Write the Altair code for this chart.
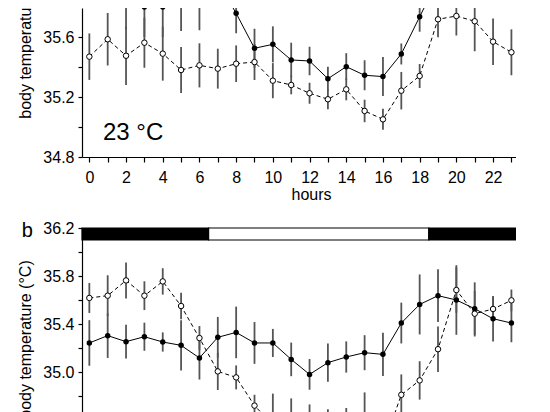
import altair as alt
import pandas as pd

# ---------------- data ----------------
hours = list(range(24))

# panel a (23 °C)
top_filled = [36.00, 35.95, 35.84, 35.80, 35.80, 35.82, 35.835, 35.97, 35.758, 35.525,
              35.551, 35.447, 35.44, 35.322, 35.402, 35.345, 35.336, 35.487, 35.735, 35.98,
              36.05, 36.05, 36.05, 36.00]
top_filled_err = [0.12, 0.15, 0.19, 0.20, 0.20, 0.18, 0.19, 0.17, 0.133, 0.13,
                  0.12, 0.115, 0.095, 0.08, 0.09, 0.10, 0.13, 0.07, 0.10, 0.10,
                  0.15, 0.15, 0.15, 0.12]
top_open = [35.469, 35.585, 35.475, 35.562, 35.489, 35.38, 35.411, 35.389, 35.422, 35.433,
            35.309, 35.28, 35.225, 35.185, 35.251, 35.107, 35.051, 35.242, 35.34, 35.718,
            35.74, 35.705, 35.569, 35.498]
top_open_err = [0.155, 0.175, 0.195, 0.167, 0.18, 0.153, 0.147, 0.133, 0.122, 0.12,
                0.117, 0.062, 0.07, 0.067, 0.073, 0.075, 0.07, 0.125, 0.08, 0.12,
                0.13, 0.20, 0.155, 0.153]

# panel b
bot_filled = [35.242, 35.303, 35.253, 35.294, 35.25, 35.222, 35.117, 35.289, 35.33, 35.242,
              35.242, 35.105, 34.98, 35.078, 35.125, 35.161, 35.147, 35.408, 35.563, 35.636,
              35.60, 35.527, 35.444, 35.408]
bot_filled_err = [0.19, 0.186, 0.14, 0.117, 0.08, 0.21, 0.18, 0.17, 0.215, 0.174,
                  0.117, 0.14, 0.128, 0.16, 0.13, 0.146, 0.18, 0.17, 0.25, 0.22,
                  0.29, 0.22, 0.19, 0.16]
bot_open = [35.617, 35.636, 35.763, 35.636, 35.755, 35.55, 35.283, 35.005, 34.955, 34.72,
            34.56, 34.52, 34.45, 34.46, 34.48, 34.50, 34.38, 34.81, 34.93, 35.19,
            35.683, 35.486, 35.525, 35.597]
bot_open_err = [0.125, 0.17, 0.15, 0.12, 0.11, 0.11, 0.10, 0.155, 0.10, 0.09,
                0.26, 0.26, 0.28, 0.23, 0.22, 0.33, 0.25, 0.17, 0.16, 0.19,
                0.19, 0.19, 0.10, 0.09]

# light/dark bar
phase_names = ["dark", "light", "dark"]
phase_start = [-0.4, 6.5, 18.5]
phase_end = [6.5, 18.5, 23.25]

x_labels_even = "datum.value % 2 == 0 ? datum.label : ''"
top_panel_label = "23 °C"
bottom_panel_letter = "b"
y_title = "body temperature (°C)"
x_title = "hours"

FONT = "Liberation Sans"


def panel_df(filled, filled_err, opened, opened_err):
    rows = []
    for h, v, e in zip(hours, filled, filled_err):
        rows.append({"hour": h, "series": "filled", "temp": v, "err": e})
    for h, v, e in zip(hours, opened, opened_err):
        rows.append({"hour": h, "series": "open", "temp": v, "err": e})
    return pd.DataFrame(rows)


x_scale = alt.Scale(domain=[phase_start[0], phase_end[-1]], nice=False, zero=False)

W = 434
H_TOP = 149
H_BOT = 184
TOP_MAX = 34.8 + H_TOP / 150.0
BOT_MIN = 36.2 - H_BOT / 120.0


def layers(df, x_enc, y_axis, y_scale):
    base = alt.Chart(df).transform_calculate(
        lo="datum.temp - datum.err", hi="datum.temp + datum.err"
    )

    def Y(field):
        return alt.Y(field, scale=y_scale, axis=y_axis)

    err = base.mark_rule(color="#555555", strokeWidth=1.8, clip=True).encode(
        x=x_enc, y=Y("lo:Q"), y2="hi:Q"
    )
    line_f = base.transform_filter("datum.series == 'filled'").mark_line(
        color="black", strokeWidth=1, clip=True
    ).encode(x=x_enc, y=Y("temp:Q"))
    line_o = base.transform_filter("datum.series == 'open'").mark_line(
        color="black", strokeWidth=1, strokeDash=[4, 3], clip=True
    ).encode(x=x_enc, y=Y("temp:Q"))
    pt_f = base.transform_filter("datum.series == 'filled'").mark_point(
        shape="circle", filled=True, color="black", size=30, opacity=1, clip=True
    ).encode(x=x_enc, y=Y("temp:Q"))
    pt_o = base.transform_filter("datum.series == 'open'").mark_point(
        shape="circle", filled=True, fill="white", stroke="black", strokeWidth=1,
        size=30, opacity=1, clip=True
    ).encode(x=x_enc, y=Y("temp:Q"))
    return [err, line_f, line_o, pt_f, pt_o], Y


# ---------------- top panel ----------------
top_df = panel_df(top_filled, top_filled_err, top_open, top_open_err)
top_x = alt.X(
    "hour:Q", scale=x_scale,
    axis=alt.Axis(values=hours, labelExpr=x_labels_even, title=x_title,
                  tickSize=5, labelPadding=7, titleX=229, titleY=42,
                  titleBaseline="alphabetic", titleAlign="center", labelFlush=False),
)
top_y_scale = alt.Scale(domain=[34.8, TOP_MAX], nice=False, zero=False)
top_y_axis = alt.Axis(
    values=[34.8, 35.0, 35.2, 35.4, 35.6],
    labelExpr="round(datum.value * 10) % 4 == 0 ? format(datum.value, '.1f') : ''",
    title=y_title, titleX=-51.4, titleY=31, titleAngle=270,
    titleBaseline="alphabetic", titleAlign="center",
    tickSize=4, labelPadding=4, labelFlush=False,
)
top_layers, topY = layers(top_df, top_x, top_y_axis, top_y_scale)
top_text = alt.Chart(pd.DataFrame({"label": [top_panel_label]})).mark_text(
    font=FONT, fontSize=24, align="left", baseline="alphabetic", color="black"
).encode(x=alt.value(21), y=alt.value(132), text="label:N")
top = alt.layer(*top_layers, top_text).properties(width=W, height=H_TOP)

# ---------------- bottom panel ----------------
bot_df = panel_df(bot_filled, bot_filled_err, bot_open, bot_open_err)
bot_x = alt.X("hour:Q", scale=x_scale, axis=None)
bot_y_scale = alt.Scale(domain=[BOT_MIN, 36.2], nice=False, zero=False)
bot_y_axis = alt.Axis(
    values=[34.8, 35.0, 35.2, 35.4, 35.6, 35.8, 36.0, 36.2],
    labelExpr="round(datum.value * 10) % 4 == 2 ? format(datum.value, '.1f') : ''",
    title=y_title, titleX=-51.4, titleY=111, titleAngle=270,
    titleBaseline="alphabetic", titleAlign="center",
    tickSize=4, labelPadding=4, labelFlush=False,
)
bot_layers, botY = layers(bot_df, bot_x, bot_y_axis, bot_y_scale)

bar_df = pd.DataFrame({
    "phase": phase_names, "start": phase_start, "end": phase_end,
    "bar_top": [36.2] * 3, "bar_bottom": [36.1] * 3,
})
bar = alt.Chart(bar_df).mark_rect(stroke="black", strokeWidth=1.2).encode(
    x=alt.X("start:Q", scale=x_scale, axis=None),
    x2="end:Q",
    y=botY("bar_top:Q"),
    y2="bar_bottom:Q",
    fill=alt.Fill("phase:N", scale=alt.Scale(domain=["dark", "light"], range=["black", "white"]),
                  legend=None),
)
letter = alt.Chart(pd.DataFrame({"label": [bottom_panel_letter]})).mark_text(
    font=FONT, fontSize=20, align="left", baseline="alphabetic", color="black"
).encode(x=alt.value(-60.3), y=alt.value(9), text="label:N")

bottom = alt.layer(*bot_layers, bar, letter).properties(width=W, height=H_BOT)

chart = alt.vconcat(top, bottom, spacing=71, bounds="flush").properties(
    autosize=alt.AutoSizeParams(type="none"),
    padding={"left": 74, "top": 0, "right": 0, "bottom": 404},
).configure_view(strokeWidth=0).configure_axis(
    labelFont=FONT, titleFont=FONT, labelFontSize=16, titleFontSize=16,
    titleFontWeight="normal", labelColor="black", titleColor="black",
    domainColor="black", tickColor="black", domainWidth=1.2, tickWidth=1.2, grid=False,
)

chart.save("out.html", embed_options={"renderer": "svg", "actions": False})
